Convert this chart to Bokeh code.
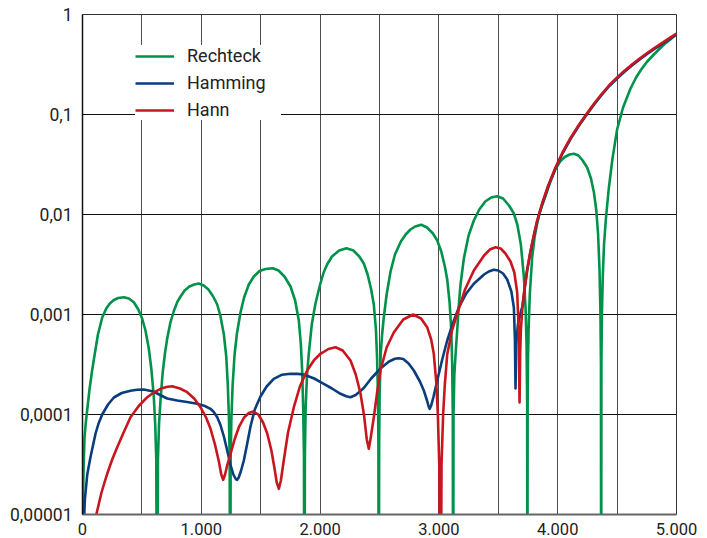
from bokeh.plotting import figure
from bokeh.models import FixedTicker, Legend, LegendItem, ColumnDataSource, CustomJSTickFormatter
from bokeh.embed import file_html
from bokeh.resources import INLINE

# ---------------- data (values given as log10 of the amplitude) ----------------
rechteck_f = [0, 5, 10, 17, 28, 40, 60, 81, 105, 130, 166, 200, 230, 264, 300, 348, 390, 432, 470, 502, 530, 558, 580, 600, 612, 621, 628,
              635, 644, 657, 675, 695, 713, 740, 770, 800, 825, 860, 900, 940, 979, 1020, 1060, 1100, 1134, 1160, 1190, 1210, 1223, 1233, 1239, 1243,
              1247, 1253, 1264, 1280, 1300, 1330, 1360, 1400, 1442, 1490, 1540, 1602, 1650, 1700, 1751, 1790, 1821, 1838, 1849, 1858, 1864, 1868,
              1872, 1878, 1890, 1905, 1930, 1961, 2000, 2030, 2059, 2100, 2160, 2222, 2280, 2330, 2368, 2400, 2430, 2452, 2470, 2480, 2487, 2491, 2494,
              2497, 2501, 2510, 2522, 2536, 2560, 2593, 2630, 2680, 2720, 2761, 2800, 2851, 2900, 2950, 2986, 3020, 3050, 3070, 3090, 3103, 3112, 3117, 3120,
              3123, 3130, 3143, 3154, 3168, 3182, 3210, 3250, 3294, 3340, 3390, 3440, 3490, 3540, 3590, 3631, 3660, 3690, 3715, 3730, 3738, 3743, 3745,
              3747, 3750, 3755, 3765, 3785, 3805, 3827, 3850, 3870, 3900, 3940, 3981, 4020, 4060, 4100, 4136, 4175, 4210, 4248, 4280, 4305, 4325, 4340, 4352, 4360, 4364, 4366,
              4368, 4372, 4380, 4390, 4405, 4430, 4460, 4500, 4550, 4613, 4660, 4700, 4750, 4809, 4860, 4900, 4950, 5000]
rechteck_log = [-7, -4.8, -4.5, -4.23, -4.08, -3.95, -3.74, -3.56, -3.38, -3.2, -3.03, -2.94, -2.89, -2.855, -2.835, -2.827, -2.84, -2.877, -2.95, -3.04, -3.16, -3.34, -3.55, -3.82, -4.1, -4.45, -7,
                -4.45, -4.1, -3.85, -3.58, -3.38, -3.24, -3.08, -2.96, -2.87, -2.82, -2.76, -2.72, -2.70, -2.69, -2.71, -2.75, -2.82, -2.9, -3.01, -3.2, -3.42, -3.7, -4.05, -4.45, -7,
                -4.45, -4.05, -3.7, -3.4, -3.19, -2.98, -2.83, -2.7, -2.62, -2.565, -2.545, -2.537, -2.56, -2.62, -2.72, -2.86, -3.06, -3.3, -3.56, -3.95, -4.4, -7,
                -4.4, -3.95, -3.6, -3.39, -3.1, -2.89, -2.7, -2.58, -2.5, -2.42, -2.36, -2.337, -2.36, -2.42, -2.49, -2.6, -2.75, -2.9, -3.15, -3.45, -3.8, -4.3, -7,
                -4.3, -3.8, -3.4, -3.2, -3.03, -2.8, -2.57, -2.4, -2.27, -2.2, -2.15, -2.12, -2.103, -2.13, -2.19, -2.26, -2.37, -2.52, -2.65, -2.88, -3.13, -3.5, -4.0, -7,
                -4.0, -3.6, -3.35, -3.16, -2.9, -2.7, -2.44, -2.21, -2.06, -1.95, -1.87, -1.83, -1.817, -1.84, -1.91, -1.99, -2.1, -2.3, -2.62, -2.95, -3.3, -3.9, -7,
                -3.9, -3.45, -3.15, -2.8, -2.43, -2.23, -2.09, -1.975, -1.905, -1.805, -1.665, -1.545, -1.47, -1.425, -1.40, -1.393, -1.41, -1.46, -1.53, -1.64, -1.78, -1.96, -2.2, -2.55, -3.0, -3.5, -7,
                -3.5, -3.0, -2.6, -2.3, -2.05, -1.74, -1.45, -1.15, -0.93, -0.74, -0.63, -0.555, -0.475, -0.4, -0.34, -0.295, -0.247, -0.195]

hamming_f = [8, 20, 40, 67, 90, 110, 135, 166, 215, 264, 330, 404, 460, 516, 586, 629, 670, 713, 797, 880, 965, 1030, 1077, 1105, 1134,
             1160, 1190, 1218, 1245, 1270, 1290, 1302, 1315, 1335, 1358, 1385, 1414, 1450, 1498, 1550, 1610, 1680, 1751, 1810, 1863, 1950, 2031,
             2100, 2172, 2220, 2256, 2300, 2368, 2430, 2508, 2580, 2630, 2663, 2700, 2745, 2789, 2840, 2873, 2900, 2915, 2923, 2935, 2955,
             2986, 3030, 3070, 3120, 3168, 3230, 3294, 3380, 3420, 3462, 3500, 3540, 3575, 3610, 3631, 3640, 3645, 3650, 3665,
             3690, 3705, 3720, 3743, 3770, 3800, 3827, 3870, 3920, 3981, 4040, 4108, 4180, 4248, 4310, 4370, 4435, 4500, 4560, 4620, 4690, 4753,
             4820, 4880, 4940, 5000]
hamming_log = [-5.2, -4.85, -4.6, -4.427, -4.3, -4.19, -4.09, -4.0, -3.9, -3.83, -3.785, -3.762, -3.752, -3.75, -3.767, -3.79, -3.815, -3.84, -3.86,
               -3.875, -3.893, -3.915, -3.943, -3.975, -4.027, -4.1, -4.22, -4.36, -4.5, -4.6, -4.645, -4.653, -4.63, -4.56, -4.46, -4.3, -4.12,
               -3.95, -3.82, -3.72, -3.643, -3.602, -3.593, -3.594, -3.6, -3.64, -3.693, -3.74, -3.793, -3.818, -3.827, -3.805,
               -3.735, -3.64, -3.54, -3.47, -3.443, -3.437, -3.445, -3.49, -3.56, -3.67, -3.76, -3.86, -3.925, -3.943, -3.91, -3.82,
               -3.66, -3.44, -3.26, -3.08, -2.93, -2.79, -2.693, -2.6, -2.57, -2.553, -2.56, -2.59, -2.65, -2.77, -2.93, -3.25, -3.74, -3.3,
               -3.1, -2.97, -2.91, -2.76, -2.56, -2.38, -2.21, -2.07, -1.895, -1.72, -1.54, -1.39, -1.245, -1.11, -0.995, -0.895, -0.805, -0.715,
               -0.64, -0.575, -0.515, -0.45, -0.395, -0.34, -0.293, -0.247, -0.2]

hann_f = [100, 118, 140, 160, 185, 208, 250, 292, 350, 404, 470, 545, 600, 657, 705, 755, 820, 881, 940, 993, 1040, 1077, 1115,
          1148, 1168, 1184, 1200, 1220, 1246, 1280, 1316, 1360, 1400, 1437, 1480, 1520, 1555, 1590, 1615, 1635,
          1653, 1670, 1694, 1730, 1779, 1830, 1891, 1950, 2003, 2070, 2130, 2190, 2256, 2300, 2340, 2370, 2393,
          2410, 2425, 2452, 2480, 2508, 2560, 2620, 2700, 2783, 2850, 2901, 2935, 2957, 2978, 2991, 3003, 3013,
          3022, 3036, 3050, 3070, 3110, 3154, 3220, 3294, 3380, 3430, 3476, 3520, 3560, 3603, 3635, 3659, 3670, 3679,
          3684, 3690, 3705, 3720, 3743, 3770, 3800, 3827, 3870, 3920, 3981, 4040, 4108, 4180, 4248, 4310, 4370, 4435, 4500, 4560, 4620,
          4690, 4753, 4820, 4880, 4940, 5000]
hann_log = [-5.3, -4.993, -4.88, -4.78, -4.68, -4.593, -4.45, -4.327, -4.17, -4.027, -3.92, -3.827, -3.78, -3.743, -3.725, -3.717, -3.74,
            -3.777, -3.84, -3.927, -4.03, -4.14, -4.30, -4.47, -4.6, -4.653, -4.6, -4.5, -4.393, -4.25, -4.127,
            -4.03, -3.985, -3.97, -4.0, -4.08, -4.19, -4.36, -4.53, -4.68, -4.743, -4.66, -4.46, -4.18, -3.927,
            -3.72, -3.56, -3.455, -3.393, -3.345, -3.327, -3.36, -3.46, -3.6, -3.79, -4.01, -4.25, -4.343, -4.24,
            -4.03, -3.78, -3.56, -3.33, -3.18, -3.05, -3.0, -3.04, -3.127, -3.25, -3.393, -3.68, -3.993, -4.5, -7,
            -4.5, -3.99, -3.7, -3.4, -3.16, -2.993, -2.75, -2.56, -2.41, -2.35, -2.327, -2.34, -2.39, -2.47, -2.58, -2.78, -3.1, -3.88,
            -3.4, -3.15, -2.90, -2.75, -2.55, -2.37, -2.20, -2.06, -1.885, -1.71, -1.53, -1.38, -1.235, -1.10, -0.985, -0.885, -0.795, -0.705,
            -0.63, -0.565, -0.505, -0.44, -0.385, -0.33, -0.283, -0.237, -0.19]

series_names = ["Rechteck", "Hamming", "Hann"]
series_colors = ["#00924a", "#0a3d7c", "#c8161f"]

x_major = [0, 1000, 2000, 3000, 4000, 5000]
x_minor = [500, 1500, 2500, 3500, 4500]
x_labels = ["0", "1.000", "2.000", "3.000", "4.000", "5.000"]
y_ticks = [1e-5, 1e-4, 1e-3, 1e-2, 1e-1, 1]
y_labels = ["0,00001", "0,0001", "0,001", "0,01", "0,1", "1"]

FONT = "Roboto"

# ---------------- figure ----------------
p = figure(width=707, height=538, x_range=(0, 5000), y_range=(1e-5, 1), y_axis_type="log",
           output_backend="svg", toolbar_location=None,
           min_border_left=82, min_border_right=31, min_border_top=14, min_border_bottom=24)
p.background_fill_color = "white"
p.border_fill_color = "white"
p.outline_line_color = "#333333"
p.outline_line_width = 1

p.xaxis.ticker = FixedTicker(ticks=x_major, minor_ticks=x_minor)
p.yaxis.ticker = FixedTicker(ticks=y_ticks, minor_ticks=[])
p.xaxis.formatter = CustomJSTickFormatter(args=dict(t=x_major, l=x_labels), code="""
    const i = t.findIndex(v => Math.abs(v - tick) < 1e-6);
    return i >= 0 ? l[i] : '';
""")
p.yaxis.formatter = CustomJSTickFormatter(args=dict(t=y_ticks, l=y_labels), code="""
    const i = t.findIndex(v => Math.abs(Math.log10(v) - Math.log10(tick)) < 1e-6);
    return i >= 0 ? l[i] : '';
""")

for ax in (p.xaxis[0], p.yaxis[0]):
    ax.major_tick_line_color = None
    ax.minor_tick_line_color = None
    ax.major_tick_out = 0
    ax.major_tick_in = 0
    ax.major_label_text_font = FONT
    ax.major_label_text_color = "#222222"

p.xaxis.axis_line_color = "#666666"
p.xaxis.axis_line_width = 2
p.xaxis.major_label_text_font_size = "16.5px"
p.xaxis.major_label_standoff = 4
p.yaxis.axis_line_color = "#111111"
p.yaxis.axis_line_width = 1.5
p.yaxis.major_label_text_font_size = "17.5px"
p.yaxis.major_label_standoff = 10

p.xgrid.grid_line_color = "#4d4d4d"
p.xgrid.grid_line_width = 1
p.xgrid.minor_grid_line_color = "#4d4d4d"
p.xgrid.minor_grid_line_width = 1
p.ygrid.grid_line_color = "#111111"
p.ygrid.grid_line_width = 1

renderers = []
for name, f, lg, col in zip(series_names,
                            [rechteck_f, hamming_f, hann_f],
                            [rechteck_log, hamming_log, hann_log],
                            series_colors):
    src = ColumnDataSource(dict(f=f, v=[10 ** x for x in lg]))
    r = p.line("f", "v", source=src, line_color=col, line_width=2.6, line_join="round")
    renderers.append(r)

legend = Legend(items=[LegendItem(label=n, renderers=[r]) for n, r in zip(series_names, renderers)],
                location=(53, 394))
legend.background_fill_color = "white"
legend.background_fill_alpha = 1
legend.border_line_color = None
legend.label_text_font = FONT
legend.label_text_font_size = "18px"
legend.label_text_color = "#222222"
legend.label_height = 20
legend.glyph_height = 20
legend.glyph_width = 39
legend.label_width = 94
legend.label_standoff = 13
legend.spacing = 6
legend.padding = 11
legend.margin = 0
p.add_layout(legend)

open("out.html", "w").write(file_html(p, INLINE))
